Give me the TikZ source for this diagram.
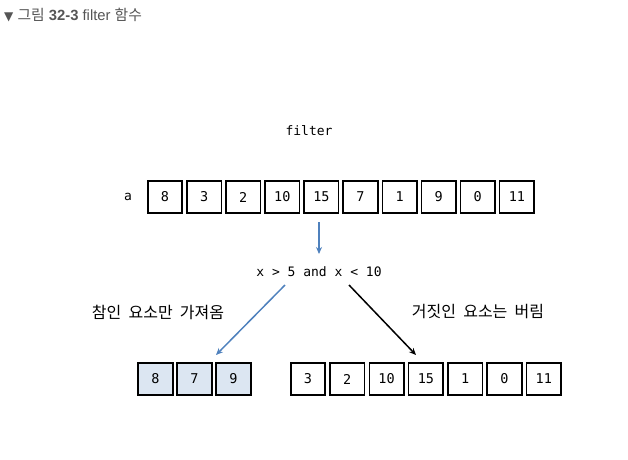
\documentclass[tikz,border=0pt]{standalone}
\usepackage{fontspec}
\setmainfont{Liberation Sans}
\setmonofont{DejaVu Sans Mono}
\newfontfamily\kr{Noto Sans CJK KR}
\newfontfamily\dv{DejaVu Sans}
\usetikzlibrary{arrows.meta}
\definecolor{hdr}{HTML}{555555}
\definecolor{arrblue}{HTML}{4F81BD}
\definecolor{boxfill}{HTML}{DCE6F2}
\newcommand{\krsp}{\hspace{0.45em}}
\begin{document}
\begin{tikzpicture}[x=1pt,y=-1pt,
  cell/.style={draw=black,line width=1.6pt,minimum width=34.5pt,minimum height=31.5pt,inner sep=0pt,font=\ttfamily\fontsize{13.5}{13.5}\selectfont},
  selcell/.style={cell,fill=boxfill},
  mono/.style={font=\ttfamily\fontsize{13}{13}\selectfont,inner sep=0pt},
  krlabel/.style={font=\kr\fontsize{16}{16}\selectfont,inner sep=0pt},
  arr/.style={line width=1.5pt,-{Stealth[length=7pt,width=6pt]}}]
\useasboundingbox (0,0) rectangle (628,459);
% header
\node[anchor=west,inner sep=0pt,text=hdr,font=\fontsize{14.8}{14.8}\selectfont] (hdr) at (4,15)
  {{\dv\fontsize{12}{12}\selectfont ▼} {\kr 그림} \textbf{32-3} filter {\kr 함수}};
\node[mono] (filt) at (309,131) {filter};
\node[mono] (alab) at (128,197) {a};
\foreach \v [count=\i from 0] in {8,3,2,10,15,7,1,9,0,11}
  \node[cell] (a\i) at ({165+39.1*\i},197) {\v};
\node[mono] (cond) at (319,272) {x > 5 and x < 10};
\foreach \v [count=\i from 0] in {8,7,9}
  \node[selcell] (t\i) at ({155.5+39*\i},379) {\v};
\foreach \v [count=\i from 0] in {3,2,10,15,1,0,11}
  \node[cell] (f\i) at ({308+39.3*\i},379) {\v};
\node[krlabel] (tl) at (158,312) {참인\krsp 요소만\krsp 가져옴};
\node[krlabel] (fl) at (478,312) {거짓인\krsp 요소는\krsp 버림};
\coordinate (v1) at (319,222);
\coordinate (v2) at (319,254);
\coordinate (b1) at (285,285);
\coordinate (b2) at (216,355);
\coordinate (k1) at (349,285);
\coordinate (k2) at (416,355);
\draw[arr,draw=arrblue] (v1) -- (v2);
\draw[arr,draw=arrblue] (b1) -- (b2);
\draw[arr,draw=black] (k1) -- (k2);
\end{tikzpicture}
\end{document}
